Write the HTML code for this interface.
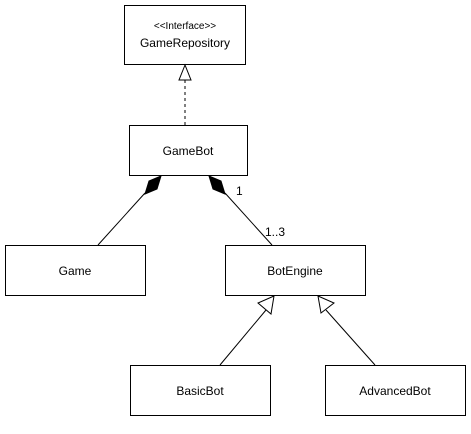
<!DOCTYPE html>
<html><head><style>
html,body{margin:0;padding:0;background:#fff;}
svg text{font-family:"Liberation Sans",Arial,sans-serif;font-size:12px;fill:#000;}
</style></head><body>
<svg width="471" height="429" viewBox="0 0 471 429" xmlns="http://www.w3.org/2000/svg">
<g fill="#fff" stroke="#000" stroke-width="1">
<rect x="124.5" y="5.5" width="121" height="59"/>
<rect x="129.5" y="125.5" width="118" height="50"/>
<rect x="5.5" y="245.5" width="140" height="50"/>
<rect x="225.5" y="245.5" width="140" height="50"/>
<rect x="130.5" y="365.5" width="140" height="50"/>
<rect x="325.5" y="365.5" width="140" height="50"/>
</g>
<g stroke="#000" fill="none">
<line x1="185" y1="80" x2="185" y2="125" stroke-dasharray="3,3"/>
<polygon points="185,65 179,80 191,80" fill="#fff"/>
<line x1="145" y1="193" x2="98" y2="245"/>
<polygon points="161,176 157,189 145,194 149,181" fill="#000"/>
<line x1="225" y1="193" x2="272" y2="245"/>
<polygon points="209,176 213,189 225,194 221,181" fill="#000"/>
<line x1="220" y1="365" x2="266" y2="310"/>
<polygon points="274,296 258,303 271,314" fill="#fff"/>
<line x1="375" y1="365" x2="326" y2="310"/>
<polygon points="318,296 321,313 334,303" fill="#fff"/>
</g>
<text x="185" y="29" text-anchor="middle" style="font-size:10px">&lt;&lt;Interface&gt;&gt;</text>
<text x="185" y="47" text-anchor="middle">GameRepository</text>
<text x="188" y="155" text-anchor="middle">GameBot</text>
<text x="75" y="275" text-anchor="middle">Game</text>
<text x="295" y="275" text-anchor="middle">BotEngine</text>
<text x="200" y="395" text-anchor="middle">BasicBot</text>
<text x="395" y="395" text-anchor="middle">AdvancedBot</text>
<text x="236" y="195">1</text>
<text x="265" y="236">1..3</text>
</svg>
</body></html>
